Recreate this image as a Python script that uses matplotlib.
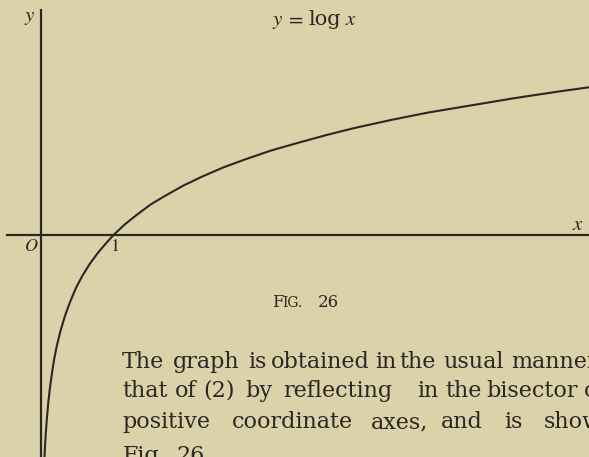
import matplotlib
matplotlib.use("Agg")
import matplotlib.pyplot as plt

W, H = 589, 457
UNIT = 73.0            # pixels per unit on both axes
OX, OY = 41, 234.5     # origin in pixels (top-left based)
BG, INK = "#dbd2a9", "#2b2723"

# curve y = log x
xs = [0.035, 0.045, 0.055, 0.065, 0.08, 0.1, 0.12, 0.15, 0.18, 0.22, 0.27, 0.33,
      0.4, 0.48, 0.57, 0.67, 0.78, 0.9, 1.0, 1.15, 1.3, 1.5, 1.7, 1.95, 2.2, 2.5,
      2.8, 3.15, 3.5, 3.9, 4.3, 4.8, 5.3, 5.9, 6.5, 7.1, 7.6]
ys = [-3.35, -3.10, -2.90, -2.73, -2.53, -2.30, -2.12, -1.90, -1.71, -1.51, -1.31, -1.11,
      -0.92, -0.73, -0.56, -0.40, -0.25, -0.11, 0.00, 0.14, 0.26, 0.41, 0.53, 0.67, 0.79, 0.92,
      1.03, 1.15, 1.25, 1.36, 1.46, 1.57, 1.67, 1.77, 1.87, 1.96, 2.03]

# body text, word by word (justified lines, cut at the page edge)
lines = [
    ["The", "graph", "is", "obtained", "in", "the", "usual", "manner"],
    ["that", "of", "(2)", "by", "reflecting", "in", "the", "bisector", "of"],
    ["positive", "coordinate", "axes,", "and", "is", "shown"],
    ["Fig.", "26."],
]
word_x = [
    [122, 173, 248, 271, 375, 399, 443, 511],
    [122, 175, 203, 245, 283, 417, 445, 486, 584],
    [122, 232, 371, 441, 504, 544],
    [123, 176],
]
line_y = [368, 397, 428, 462]

fig = plt.figure(figsize=(W / 100, H / 100), dpi=100, facecolor=BG)
ax = fig.add_axes([0, 0, 1, 1])
ax.set_facecolor(BG)
ax.set_xlim(-OX / UNIT, (W - OX) / UNIT)
ax.set_ylim(-(H - OY) / UNIT, OY / UNIT)
ax.axis("off")

ax.axhline(0, xmin=7 / W, xmax=1, color=INK, lw=1.6)
ax.axvline(0, ymin=0, ymax=1 - 10 / H, color=INK, lw=1.6)
ax.plot(xs, ys, color=INK, lw=1.5, solid_capstyle="round")

plt.rcParams["mathtext.fontset"] = "stix"


def px(x, y, s, **kw):
    kw.setdefault("color", INK)
    kw.setdefault("va", "baseline")
    fig.text(x / W, 1 - y / H, s, **kw)


px(24, 21, r"$y$", fontsize=15)
px(24, 251, r"$O$", fontsize=13)
px(110, 251, r"$\mathit{1}$", fontsize=13)
px(572, 230, r"$x$", fontsize=15)

# title, spaced out as in the print
px(272, 25, r"$y$", fontsize=15)
px(285, 25, r"$=$", fontsize=15)
px(308, 25, "log", fontsize=15, family="DejaVu Serif")
px(345, 25, r"$x$", fontsize=15)

# caption in small caps
px(272, 307, "F", fontsize=12, family="DejaVu Serif")
px(282, 307, "IG.", fontsize=10, family="DejaVu Serif")
px(318, 307, "26", fontsize=12, family="DejaVu Serif")

for words, xw, yl in zip(lines, word_x, line_y):
    for w, x in zip(words, xw):
        px(x, yl, w, fontsize=16, family="DejaVu Serif")

fig.savefig("out.png", dpi=100, facecolor=BG)
